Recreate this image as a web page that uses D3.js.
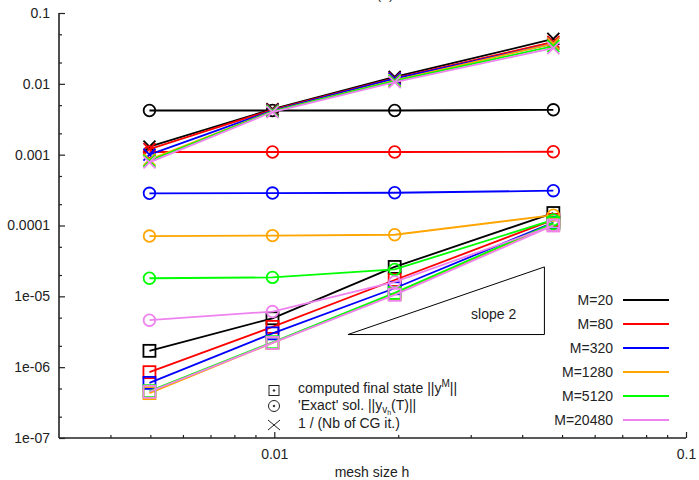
<!DOCTYPE html>
<html>
<head>
<meta charset="utf-8">
<script src="https://cdn.jsdelivr.net/npm/d3@7/dist/d3.min.js"></script>
<style>
  html, body { margin: 0; padding: 0; background: #fff; }
  svg { display: block; font-family: "Liberation Sans", Arial, Helvetica, sans-serif; }
</style>
</head>
<body>
<script>
// Mesh sizes h = 1/(N+1)
const meshSizes = [1/201, 1/101, 1/51, 1/21];

const seriesLabels = ["M=20", "M=80", "M=320", "M=1280", "M=5120", "M=20480"];
const seriesColors = ["#000000", "#ff0000", "#0000ff", "#ffa500", "#00ff00", "#ee82ee"];

// computed final state ||y^M||  (squares)
const finalState = [
  [1.7e-6, 4.9e-6, 2.6e-5, 1.5e-4],
  [8.5e-7, 3.7e-6, 1.7e-5, 1.2e-4],
  [6.0e-7, 3.0e-6, 1.3e-5, 1.1e-4],
  [4.3e-7, 2.2e-6, 1.08e-5, 1.05e-4],
  [4.6e-7, 2.25e-6, 1.12e-5, 1.08e-4],
  [4.5e-7, 2.2e-6, 1.05e-5, 1.0e-4]
];

// 'Exact' solution ||y_{v_h}(T)||  (circles)
const exactSol = [
  [4.2e-3, 4.2e-3, 4.2e-3, 4.3e-3],
  [1.09e-3, 1.09e-3, 1.09e-3, 1.1e-3],
  [2.85e-4, 2.87e-4, 2.9e-4, 3.1e-4],
  [7.1e-5, 7.2e-5, 7.4e-5, 1.4e-4],
  [1.8e-5, 1.85e-5, 2.4e-5, 1.2e-4],
  [4.6e-6, 6.1e-6, 1.6e-5, 1.0e-4]
];

// 1 / (number of CG iterations)  (crosses)
const invCG = [
  [1.3e-3, 4.4e-3, 0.0125, 0.043],
  [1.2e-3, 4.3e-3, 0.012, 0.039],
  [1.0e-3, 4.2e-3, 0.0118, 0.037],
  [8.5e-4, 4.1e-3, 0.0112, 0.037],
  [8.2e-4, 4.1e-3, 0.011, 0.034],
  [7.8e-4, 4.0e-3, 0.0106, 0.032]
];

const xTickValues = [0.01, 0.1];
const xTickLabels = ["0.01", "0.1"];
const yTickValues = [1e-7, 1e-6, 1e-5, 1e-4, 1e-3, 1e-2, 1e-1];
const yTickLabels = ["1e-07", "1e-06", "1e-05", "0.0001", "0.001", "0.01", "0.1"];

// slope-2 reference triangle (h range, value at the right corner)
const slopeH = [0.0151, 0.0453];
const slopeTop = 2.6e-5;

const W = 699, H = 480;
const svg = d3.select("body").append("svg").attr("width", W).attr("height", H);

const x = d3.scaleLog().domain([0.003, 0.1]).range([59, 686]);
const y = d3.scaleLog().domain([1e-7, 0.1]).range([438, 13]);

const axisColor = "#222";

// title, mostly above the frame
svg.append("text").attr("x", 385).attr("y", -1).attr("text-anchor", "middle")
  .attr("font-size", 14).attr("fill", "#333").text("(a)");

// minor ticks
const xMinor = [];
[0.001, 0.01].forEach(d => { for (let k = 2; k <= 9; k++) { const v = d * k; if (v > 0.003 && v < 0.1) xMinor.push(v); } });
const yMinor = [];
yTickValues.slice(0, -1).forEach(d => { [2, 5].forEach(k => yMinor.push(d * k)); });

const gx = svg.append("g").attr("transform", "translate(0,438)");
gx.call(d3.axisBottom(x).tickValues(xMinor).tickSize(-3).tickFormat(""));
gx.call(g => g.select(".domain").remove());
const gx2 = svg.append("g").attr("transform", "translate(0,438)");
gx2.call(d3.axisBottom(x).tickValues(xTickValues).tickSize(-6).tickPadding(11)
  .tickFormat((d, i) => xTickLabels[i]));
gx2.select(".domain").attr("d", `M59,0H686`);

const gy = svg.append("g").attr("transform", "translate(59,0)");
gy.call(d3.axisLeft(y).tickValues(yMinor).tickSize(-3).tickFormat(""));
gy.call(g => g.select(".domain").remove());
const gy2 = svg.append("g").attr("transform", "translate(59,0)");
gy2.call(d3.axisLeft(y).tickValues(yTickValues).tickSize(-6).tickPadding(9)
  .tickFormat((d, i) => yTickLabels[i]));
gy2.select(".domain").attr("d", `M0,13V438`);

svg.selectAll(".domain").attr("stroke", axisColor).attr("stroke-width", 1.6);
svg.selectAll(".tick line").attr("stroke", axisColor).attr("stroke-width", 1.2);
svg.selectAll(".tick text").attr("font-size", 14).attr("fill", "#222")
  .attr("font-family", "'Liberation Sans', Arial, sans-serif");

// axis label
svg.append("text").attr("x", 372).attr("y", 477).attr("text-anchor", "middle")
  .attr("font-size", 14).attr("fill", "#222").text("mesh size h");

// slope triangle
const tri = [[slopeH[0], slopeTop * Math.pow(slopeH[0] / slopeH[1], 2)],
             [slopeH[1], slopeTop * Math.pow(slopeH[0] / slopeH[1], 2)],
             [slopeH[1], slopeTop]];
svg.append("path")
  .attr("d", d3.line().x(d => x(d[0])).y(d => y(d[1]))(tri) + "Z")
  .attr("fill", "none").attr("stroke", "#000").attr("stroke-width", 1);
svg.append("text").attr("x", x(0.0341)).attr("y", 318.5).attr("text-anchor", "middle")
  .attr("font-size", 14).attr("fill", "#222").text("slope 2");

// marker shapes
function square(g, cx, cy, s) { g.append("rect").attr("x", cx - s / 2).attr("y", cy - s / 2).attr("width", s).attr("height", s); }
function circle(g, cx, cy, r) { g.append("circle").attr("cx", cx).attr("cy", cy).attr("r", r); }
function cross(g, cx, cy, a, b) { g.append("path").attr("d", `M${cx - a},${cy - b}L${cx + a},${cy + b}M${cx - a},${cy + b}L${cx + a},${cy - b}`); }

const line = d3.line().x(d => x(d[0])).y(d => y(d[1]));

seriesLabels.forEach((lab, i) => {
  const col = seriesColors[i];
  const g = svg.append("g").attr("fill", "none").attr("stroke", col).attr("stroke-width", 1.8);
  const sets = [
    { vals: finalState[i], kind: "sq" },
    { vals: exactSol[i], kind: "ci" },
    { vals: invCG[i], kind: "cr" }
  ];
  sets.forEach(s => {
    const pts = meshSizes.map((h, j) => [h, s.vals[j]]);
    g.append("path").attr("d", line(pts));
    pts.forEach(p => {
      const cx = x(p[0]), cy = y(p[1]);
      if (s.kind === "sq") square(g, cx, cy, 12);
      else if (s.kind === "ci") circle(g, cx, cy, 5.8);
      else cross(g, cx, cy, 6, 6);
    });
  });
});

// colour legend
const legX = 613, legY0 = 300, legDy = 24;
seriesLabels.forEach((lab, i) => {
  const yy = legY0 + i * legDy;
  svg.append("text").attr("x", legX).attr("y", yy + 5).attr("text-anchor", "end")
    .attr("font-size", 14).attr("fill", "#222").text(lab);
  svg.append("line").attr("x1", 623).attr("x2", 669).attr("y1", yy).attr("y2", yy)
    .attr("stroke", seriesColors[i]).attr("stroke-width", 2);
});

// symbol legend
const sl = svg.append("g").attr("fill", "none").attr("stroke", "#222").attr("stroke-width", 1);
square(sl, 274, 390.5, 10);
sl.append("circle").attr("cx", 274).attr("cy", 390.5).attr("r", 0.8).attr("fill", "#222");
circle(sl, 274, 406, 5.5);
sl.append("circle").attr("cx", 274).attr("cy", 406).attr("r", 0.8).attr("fill", "#222");
cross(sl, 274, 425, 6, 5);

const t1 = svg.append("text").attr("x", 298).attr("y", 393).attr("font-size", 14).attr("fill", "#222");
t1.append("tspan").text("computed final state ||y");
t1.append("tspan").attr("dy", -6).attr("font-size", 10).text("M");
t1.append("tspan").attr("dy", 6).text("||");

const t2 = svg.append("text").attr("x", 298).attr("y", 410).attr("font-size", 14).attr("fill", "#222");
t2.append("tspan").text("'Exact' sol. ||y");
t2.append("tspan").attr("dy", 3).attr("font-size", 10).text("v");
t2.append("tspan").attr("dy", 2).attr("font-size", 7).text("h");
t2.append("tspan").attr("dy", -5).text("(T)||");

svg.append("text").attr("x", 298).attr("y", 428).attr("font-size", 14).attr("fill", "#222")
  .text("1 / (Nb of CG it.)");
</script>
</body>
</html>
